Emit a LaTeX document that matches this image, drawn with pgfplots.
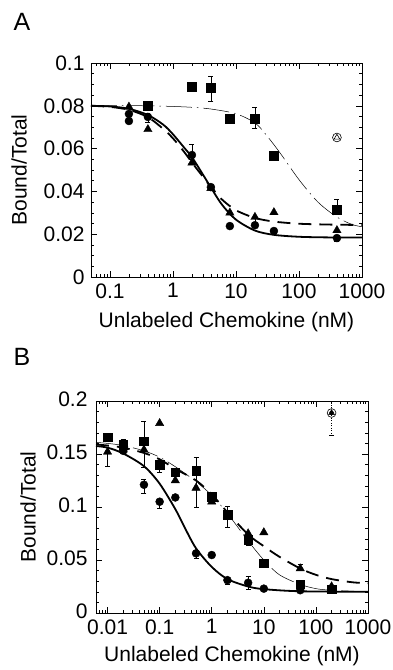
\documentclass[border=0pt]{standalone}
\usepackage{fontspec}
\setmainfont{Liberation Sans}
\usepackage{pgfplots}
\pgfplotsset{compat=1.18}
\pgfplotsset{
  mySolid/.style={black, line width=1.8pt, smooth, mark=none},
  myDash/.style={black, line width=1.8pt, smooth, mark=none, dash pattern=on 13pt off 8pt},
  myThin/.style={black, line width=0.5pt, smooth, mark=none, dash pattern=on 26pt off 5pt on 1.5pt off 5pt},
  myCirc/.style={only marks, mark=*, mark size=4pt, black, mark options={fill=black}},
  myTri/.style={only marks, mark=triangle*, mark size=4.8pt, black, mark options={fill=black}},
  mySqr/.style={only marks, mark=square*, mark size=4.3pt, black, mark options={fill=black}},
  myBar/.style={only marks, mark=none, forget plot,
    error bars/y dir=both, error bars/y explicit,
    error bars/error bar style={black, line width=0.5pt, solid},
    error bars/error mark options={rotate=90, mark size=2.5pt, black, line width=0.5pt}},
}
\begin{document}
\begin{tikzpicture}
\path[use as bounding box] (0pt,0pt) rectangle (392pt,-670pt);
\node[font=\fontsize{25}{27}\selectfont] at (22pt,-22pt) {A};
\node[font=\fontsize{25}{27}\selectfont] at (22pt,-357pt) {B};

% ---------------- Panel A ----------------
\begin{semilogxaxis}[
  scale only axis,
  axis line style={line width=0.9pt},
  tick style={black, line width=0.6pt},
  major tick length=6pt, minor tick length=3pt,
  tick align=inside,
  xtick pos=both, ytick pos=both,
  /pgf/number format/assume math mode=true,
  ticklabel style={font=\fontsize{21}{23}\selectfont},
  xticklabel style={yshift=-3pt},
  yticklabel style={xshift=-3pt},
  xlabel={Unlabeled Chemokine (nM)},
  ylabel={Bound/Total},
  xlabel style={font=\fontsize{21}{23}\selectfont, at={(axis description cs:0.5,-0.21)}, anchor=center},
  ylabel style={font=\fontsize{21}{23}\selectfont, at={(axis description cs:-0.265,0.5)}, anchor=center},
  at={(91pt,-277pt)}, anchor=south west,
  width=271pt, height=214pt,
  xmin=0.05, xmax=1000, ymin=0, ymax=0.1,
  xtick={0.1,1,10,100,1000}, xticklabels={0.1,1,10,100,1000},
  minor xtick={0.06,0.07,0.08,0.09,0.2,0.3,0.4,0.5,0.6,0.7,0.8,0.9,2,3,4,5,6,7,8,9,20,30,40,50,60,70,80,90,200,300,400,500,600,700,800,900},
  ytick={0,0.02,0.04,0.06,0.08,0.1}, yticklabels={0,0.02,0.04,0.06,0.08,0.1},
  minor ytick={0.005,0.01,0.015,0.025,0.03,0.035,0.045,0.05,0.055,0.065,0.07,0.075,0.085,0.09,0.095},
]
\addplot[mySolid] coordinates {(0.05,0.0800) (0.1,0.0797) (0.2,0.0786) (0.4,0.0757) (0.7,0.0712) (1,0.0667) (1.5,0.0605) (2,0.0560) (3,0.0478) (4,0.0418) (6,0.0338) (10,0.0268) (20,0.0217) (40,0.0197) (100,0.0188) (300,0.0185) (1000,0.0185)};
\addplot[myDash] coordinates {(0.05,0.0800) (0.1,0.0795) (0.2,0.0781) (0.4,0.0747) (0.7,0.0692) (1,0.0648) (1.5,0.0585) (2,0.0535) (3,0.0468) (4,0.0420) (6,0.0362) (10,0.0312) (20,0.0276) (40,0.0259) (100,0.0249) (300,0.0245) (1000,0.0243)};
\addplot[myThin] coordinates {(0.05,0.0802) (0.1,0.0801) (0.4,0.0800) (1,0.0797) (2,0.0793) (4,0.0785) (10,0.0763) (20,0.0720) (30,0.0665) (50,0.0580) (100,0.0455) (200,0.0350) (400,0.0280) (700,0.0245) (1000,0.0235)};
\addplot[myBar] coordinates {(2,0.057) += (0,0.005) -= (0,0.002) (4,0.088) += (0,0.006) -= (0,0.006) (20,0.0743) += (0,0.005) -= (0,0.005) (400,0.0315) += (0,0.005) -= (0,0.0) (20,0.028) += (0,0) -= (0,0.0025) (0.4,0.0745) += (0,0.002) -= (0,0.002) (400,0.0185) += (0,0.001) -= (0,0.002)};
\addplot[mySqr] coordinates {(0.4,0.080) (2,0.0888) (4,0.0884) (8,0.0740) (20,0.0740) (40,0.0568) (400,0.0315)};
\addplot[myCirc] coordinates {(0.2,0.0729) (0.2,0.0762) (0.4,0.0748) (2,0.0570) (4,0.0420) (8,0.0238) (20,0.0242) (40,0.0215) (400,0.0182)};
\addplot[myTri] coordinates {(0.2,0.0795) (0.4,0.0690) (2,0.0534) (4,0.0415) (8,0.0300) (20,0.0280) (40,0.0302) (400,0.0218)};
\addplot[only marks, mark=o, mark size=4.4pt, black, line width=0.6pt] coordinates {(400,0.0652)};
\addplot[only marks, mark=triangle, mark size=3.3pt, black, line width=0.6pt] coordinates {(400,0.0652)};
\end{semilogxaxis}

% ---------------- Panel B ----------------
\begin{semilogxaxis}[
  scale only axis,
  axis line style={line width=0.9pt},
  tick style={black, line width=0.6pt},
  major tick length=6pt, minor tick length=3pt,
  tick align=inside,
  xtick pos=both, ytick pos=both,
  /pgf/number format/assume math mode=true,
  ticklabel style={font=\fontsize{21}{23}\selectfont},
  xticklabel style={yshift=-3pt},
  yticklabel style={xshift=-5pt, yshift=2pt},
  xlabel={Unlabeled Chemokine (nM)},
  ylabel={Bound/Total},
  xlabel style={font=\fontsize{21}{23}\selectfont, at={(axis description cs:0.5,-0.205)}, anchor=center},
  ylabel style={font=\fontsize{21}{23}\selectfont, at={(axis description cs:-0.25,0.5)}, anchor=center},
  at={(96pt,-613pt)}, anchor=south west,
  width=272pt, height=212pt,
  xmin=0.006, xmax=1000, ymin=0, ymax=0.2,
  xtick={0.01,0.1,1,10,100,1000}, xticklabels={0.01,0.1,1,10,100,1000},
  minor xtick={0.007,0.008,0.009,0.02,0.03,0.04,0.05,0.06,0.07,0.08,0.09,0.2,0.3,0.4,0.5,0.6,0.7,0.8,0.9,2,3,4,5,6,7,8,9,20,30,40,50,60,70,80,90,200,300,400,500,600,700,800,900},
  ytick={0,0.05,0.1,0.15,0.2}, yticklabels={0,0.05,0.1,0.15,0.2},
  minor ytick={0.01,0.02,0.03,0.04,0.06,0.07,0.08,0.09,0.11,0.12,0.13,0.14,0.16,0.17,0.18,0.19},
]
\addplot[mySolid] coordinates {(0.006,0.1575) (0.01,0.1560) (0.02,0.1505) (0.05,0.1385) (0.1,0.1220) (0.2,0.0980) (0.3,0.0810) (0.5,0.0610) (1,0.0435) (2,0.0320) (5,0.0250) (10,0.0225) (50,0.0205) (1000,0.0200)};
\addplot[myDash] coordinates {(0.006,0.1590) (0.01,0.1580) (0.02,0.1560) (0.05,0.1510) (0.1,0.1450) (0.2,0.1360) (0.5,0.1250) (1,0.1120) (2,0.0950) (5,0.0740) (10,0.0630) (20,0.0530) (50,0.0420) (100,0.0360) (200,0.0320) (500,0.0290) (1000,0.0280)};
\addplot[myThin] coordinates {(0.006,0.1610) (0.01,0.1600) (0.02,0.1580) (0.05,0.1530) (0.1,0.1470) (0.2,0.1380) (0.5,0.1240) (1,0.1110) (2,0.0940) (5,0.0680) (10,0.0500) (20,0.0360) (50,0.0270) (100,0.0230) (200,0.0215) (1000,0.0200)};
\addplot[myBar] coordinates {(0.05,0.1626) += (0,0.018) -= (0,0.025) (0.01,0.152) += (0,0) -= (0,0.014) (0.02,0.160) += (0,0.004) -= (0,0.0) (0.1,0.1406) += (0,0) -= (0,0.008) (0.5,0.118) += (0,0.014) -= (0,0.018) (0.5,0.134) += (0,0.013) -= (0,0) (2,0.093) += (0,0.008) -= (0,0.012) (5,0.028) += (0,0.007) -= (0,0.006) (0.05,0.121) += (0,0.005) -= (0,0.008) (0.1,0.105) += (0,0) -= (0,0.006) (0.5,0.0563) += (0,0) -= (0,0.005) (2,0.031) += (0,0) -= (0,0.004) (5,0.068) += (0,0.007) -= (0,0.004) (50,0.042) += (0,0.004) -= (0,0) (200,0.0226) += (0,0) -= (0,0.004)};
\addplot[mySqr] coordinates {(0.01,0.1660) (0.02,0.1590) (0.05,0.1620) (0.1,0.1400) (0.2,0.1330) (0.5,0.1340) (1,0.1100) (2,0.0930) (5,0.0690) (10,0.0470) (50,0.0270) (200,0.0226)};
\addplot[myCirc] coordinates {(0.02,0.1530) (0.05,0.1210) (0.1,0.1050) (0.2,0.1090) (0.5,0.0563) (1,0.0547) (2,0.0310) (5,0.0285) (10,0.0230) (50,0.0215) (200,0.0220)};
\addplot[myTri] coordinates {(0.01,0.1520) (0.02,0.1540) (0.05,0.1540) (0.1,0.1790) (0.2,0.1250) (0.5,0.1180) (1,0.1050) (2,0.0920) (5,0.0750) (10,0.0760) (50,0.0420) (200,0.0250)};
\addplot[only marks, mark=none, forget plot, error bars/y dir=both, error bars/y explicit,
  error bars/error bar style={black, line width=0.5pt, dotted},
  error bars/error mark options={rotate=90, mark size=2.5pt, black, line width=0.5pt}]
  coordinates {(200,0.1887) += (0,0.012) -= (0,0.021)};
\addplot[only marks, mark=o, mark size=4.4pt, black, line width=0.6pt, mark options={fill=white}] coordinates {(200,0.1887)};
\addplot[only marks, mark=triangle, mark size=3.3pt, black, line width=0.6pt] coordinates {(200,0.1887)};
\end{semilogxaxis}
\end{tikzpicture}
\end{document}
